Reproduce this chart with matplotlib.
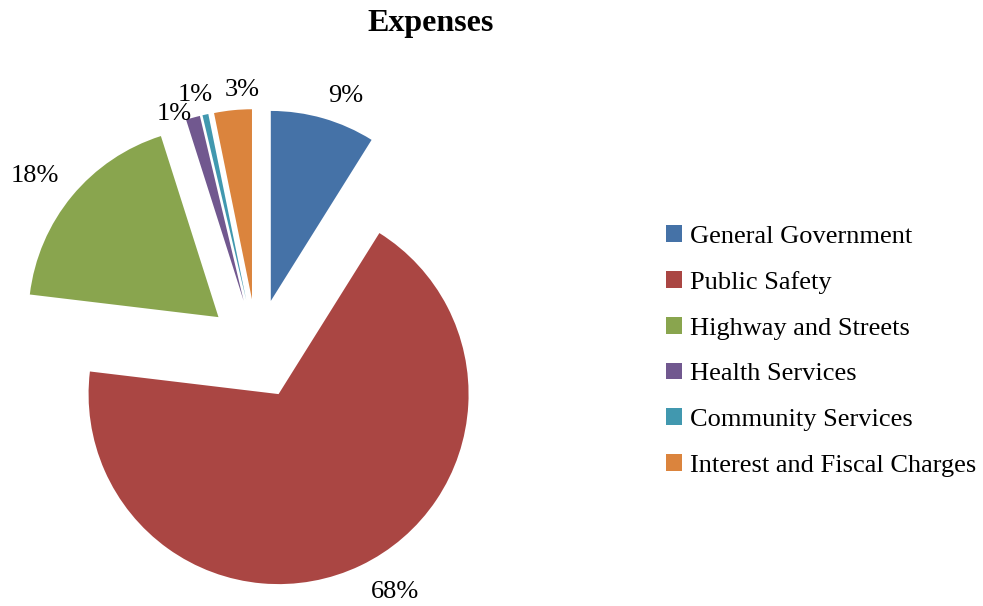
import matplotlib
matplotlib.use("Agg")
import matplotlib.pyplot as plt
import numpy as np

categories = ["General Government", "Public Safety", "Highway and Streets",
              "Health Services", "Community Services", "Interest and Fiscal Charges"]
values = [8.9, 68.0, 18.2, 1.2, 0.5, 3.2]
pct_labels = ["9%", "68%", "18%", "1%", "1%", "3%"]
colors = ["#4572A7", "#AA4643", "#89A54E", "#71588F", "#4198AF", "#DB843D"]

# label placement style (distance in radii, angle offset in degrees)
label_dist = [1.15, 1.21, 1.22, 1.05, 1.11, 1.10]
label_dang = [-4, 5, 2, 5, 1.5, -3]

plt.rcParams['font.family'] = ['Liberation Serif', 'DejaVu Serif']

W, H = 983, 606
fig = plt.figure(figsize=(W / 100, H / 100), dpi=100)
ax = fig.add_axes([0, 0, 1, 1])

R = 190
cx, cy = 257, H - 349
wedges, _ = ax.pie(values, colors=colors, startangle=90, counterclock=False,
                   explode=[50] * len(values), radius=R, center=(cx, cy),
                   wedgeprops=dict(linewidth=0))
ax.set_xlim(0, W)
ax.set_ylim(0, H)
ax.set_aspect('equal')
ax.axis('off')

for w, lab, d, da in zip(wedges, pct_labels, label_dist, label_dang):
    th = np.deg2rad((w.theta1 + w.theta2) / 2 + da)
    x = w.center[0] + R * d * np.cos(th)
    y = w.center[1] + R * d * np.sin(th)
    ax.text(x, y, lab, ha='center', va='center', fontsize=19, color='#000000')

fig.text(431 / W, 1 - 23 / H, "Expenses", ha='center', va='center',
         fontsize=23, fontweight='bold')

leg = fig.legend(wedges, categories, loc='center left',
                 bbox_to_anchor=(666 / W, 1 - 351 / H), frameon=False,
                 fontsize=19, handlelength=0.6, handleheight=0.6,
                 handletextpad=0.3, labelspacing=0.87, borderpad=0, borderaxespad=0)

fig.savefig("out.png", dpi=100)
